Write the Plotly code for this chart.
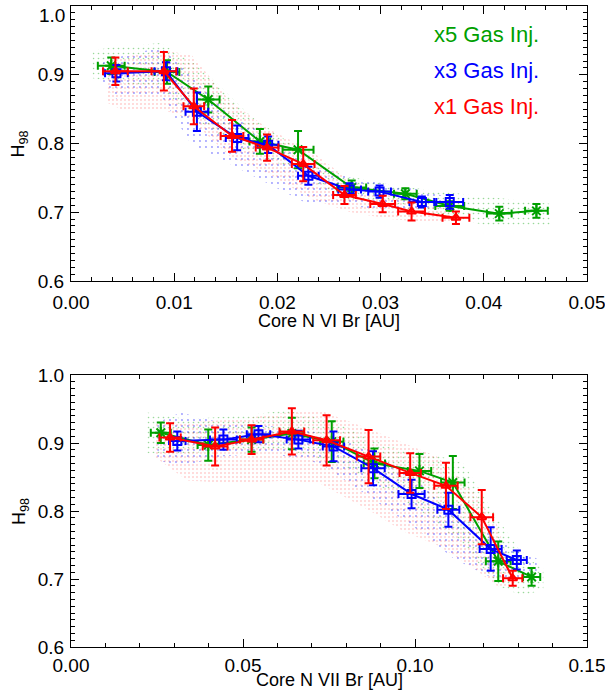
import plotly.graph_objects as go

# ---- binned means: Core N VI brightness vs H98 ----
n6_g_x = [0.0039, 0.0093, 0.0133, 0.0183, 0.0220, 0.0272, 0.0324, 0.0367, 0.0415, 0.0451]
n6_g_y = [0.913, 0.904, 0.864, 0.803, 0.791, 0.736, 0.727, 0.709, 0.698, 0.702]
n6_g_ex = [0.0013, 0.0012, 0.0011, 0.0010, 0.0015, 0.0014, 0.0011, 0.0014, 0.0012, 0.0011]
n6_g_ey = [0.012, 0.017, 0.019, 0.018, 0.027, 0.010, 0.008, 0.007, 0.010, 0.010]

n6_b_x = [0.0044, 0.0092, 0.0122, 0.0161, 0.0191, 0.0230, 0.0270, 0.0299, 0.0340, 0.0367]
n6_b_y = [0.902, 0.905, 0.846, 0.808, 0.798, 0.753, 0.733, 0.730, 0.715, 0.715]
n6_b_ex = [0.0011, 0.0011, 0.0011, 0.0011, 0.0010, 0.0010, 0.0011, 0.0011, 0.0012, 0.0013]
n6_b_ey = [0.012, 0.013, 0.028, 0.018, 0.012, 0.013, 0.009, 0.009, 0.008, 0.010]

n6_r_x = [0.0043, 0.0090, 0.0119, 0.0156, 0.0190, 0.0225, 0.0265, 0.0302, 0.0330, 0.0373]
n6_r_y = [0.905, 0.905, 0.854, 0.811, 0.794, 0.770, 0.725, 0.712, 0.701, 0.692]
n6_r_ex = [0.0012, 0.0012, 0.0010, 0.0011, 0.0011, 0.0011, 0.0011, 0.0012, 0.0013, 0.0013]
n6_r_ey = [0.020, 0.028, 0.026, 0.023, 0.019, 0.025, 0.013, 0.012, 0.013, 0.009]

# ---- binned means: Core N VII brightness vs H98 ----
n7_g_x = [0.0261, 0.0399, 0.0525, 0.0642, 0.0758, 0.0882, 0.1013, 0.1110, 0.1242, 0.1339]
n7_g_y = [0.915, 0.897, 0.905, 0.914, 0.902, 0.870, 0.859, 0.842, 0.726, 0.703]
n7_g_ex = [0.0029, 0.0031, 0.0034, 0.0034, 0.0034, 0.0031, 0.0034, 0.0034, 0.0036, 0.0025]
n7_g_ey = [0.015, 0.023, 0.018, 0.023, 0.030, 0.022, 0.025, 0.039, 0.029, 0.013]

n7_b_x = [0.0309, 0.0443, 0.0545, 0.0661, 0.0763, 0.0878, 0.0990, 0.1097, 0.1220, 0.1296]
n7_b_y = [0.903, 0.905, 0.913, 0.905, 0.895, 0.863, 0.825, 0.802, 0.744, 0.728]
n7_b_ex = [0.0024, 0.0039, 0.0034, 0.0034, 0.0031, 0.0034, 0.0038, 0.0032, 0.0032, 0.0029]
n7_b_ey = [0.014, 0.015, 0.012, 0.013, 0.022, 0.025, 0.021, 0.025, 0.032, 0.014]

n7_r_x = [0.0288, 0.0419, 0.0525, 0.0642, 0.0743, 0.0865, 0.0986, 0.1090, 0.1194, 0.1284]
n7_r_y = [0.908, 0.895, 0.905, 0.917, 0.904, 0.880, 0.856, 0.837, 0.791, 0.701]
n7_r_ex = [0.0031, 0.0036, 0.0034, 0.0036, 0.0039, 0.0034, 0.0031, 0.0034, 0.0033, 0.0028]
n7_r_ey = [0.021, 0.028, 0.021, 0.034, 0.037, 0.039, 0.029, 0.034, 0.040, 0.011]

# ---- extent of the raw time-slice clouds (upper / lower edge) ----
c6_g_x = [0.0021, 0.0039, 0.0087, 0.0126, 0.0174, 0.0213, 0.0261, 0.0309, 0.0358, 0.0406, 0.0466]
c6_g_hi = [0.935, 0.940, 0.946, 0.910, 0.840, 0.800, 0.755, 0.740, 0.730, 0.722, 0.712]
c6_g_lo = [0.895, 0.890, 0.880, 0.830, 0.785, 0.765, 0.720, 0.710, 0.695, 0.680, 0.680]

c6_b_x = [0.0029, 0.0044, 0.0087, 0.0116, 0.0155, 0.0193, 0.0232, 0.0271, 0.0309, 0.0348, 0.0367]
c6_b_hi = [0.920, 0.925, 0.940, 0.900, 0.840, 0.810, 0.770, 0.750, 0.740, 0.730, 0.720]
c6_b_lo = [0.890, 0.865, 0.870, 0.800, 0.770, 0.740, 0.710, 0.710, 0.700, 0.700, 0.705]

c6_r_x = [0.0034, 0.0048, 0.0087, 0.0116, 0.0155, 0.0193, 0.0232, 0.0271, 0.0309, 0.0348, 0.0377]
c6_r_hi = [0.920, 0.925, 0.935, 0.930, 0.860, 0.820, 0.790, 0.745, 0.725, 0.710, 0.700]
c6_r_lo = [0.860, 0.850, 0.850, 0.835, 0.780, 0.755, 0.720, 0.700, 0.690, 0.685, 0.685]

c7_g_x = [0.0222, 0.0338, 0.0484, 0.0629, 0.0774, 0.0919, 0.1044, 0.1141, 0.1238, 0.1315, 0.1373]
c7_g_hi = [0.945, 0.935, 0.940, 0.948, 0.930, 0.895, 0.885, 0.870, 0.790, 0.735, 0.715]
c7_g_lo = [0.885, 0.885, 0.890, 0.890, 0.870, 0.830, 0.790, 0.750, 0.690, 0.675, 0.685]

c7_b_x = [0.0251, 0.0319, 0.0435, 0.0580, 0.0725, 0.0870, 0.1015, 0.1112, 0.1209, 0.1286, 0.1354]
c7_b_hi = [0.930, 0.945, 0.930, 0.925, 0.915, 0.890, 0.840, 0.800, 0.770, 0.745, 0.730]
c7_b_lo = [0.875, 0.865, 0.880, 0.885, 0.870, 0.820, 0.770, 0.730, 0.705, 0.700, 0.710]

c7_r_x = [0.0242, 0.0338, 0.0484, 0.0629, 0.0725, 0.0870, 0.0967, 0.1064, 0.1160, 0.1238, 0.1276]
c7_r_hi = [0.930, 0.930, 0.935, 0.945, 0.948, 0.920, 0.900, 0.880, 0.835, 0.780, 0.720]
c7_r_lo = [0.880, 0.845, 0.840, 0.845, 0.840, 0.800, 0.770, 0.750, 0.720, 0.690, 0.690]

labels = ["x5 Gas Inj.", "x3 Gas Inj.", "x1 Gas Inj."]
y_ticks = [0.6, 0.7, 0.8, 0.9, 1.0]
GREEN, BLUE, RED = "#00A000", "#0000FF", "#FF0000"
FONT = "Liberation Sans, Arial, Helvetica, sans-serif"

fig = go.Figure()


def cloud(xs, hi, lo, color, size, xa, ya):
    fig.add_trace(go.Scatter(
        x=xs + xs[::-1], y=hi + lo[::-1], xaxis=xa, yaxis=ya,
        mode="lines", line=dict(width=0), fill="toself",
        fillcolor="rgba(0,0,0,0)",
        fillpattern=dict(shape=".", fgcolor=color, bgcolor="rgba(0,0,0,0)",
                         size=size, solidity=0.08, fgopacity=0.4),
        hoverinfo="skip", showlegend=False))


def series(x, y, ex, ey, color, symbol, msize, xa, ya):
    fig.add_trace(go.Scatter(
        x=x, y=y, xaxis=xa, yaxis=ya, mode="lines+markers",
        line=dict(color=color, width=2),
        marker=dict(symbol=symbol, size=msize, color=color,
                    line=dict(color=color, width=2)),
        error_x=dict(type="data", array=ex, color=color, thickness=2, width=4),
        error_y=dict(type="data", array=ey, color=color, thickness=2, width=4),
        showlegend=False))


# top panel
cloud(c6_g_x, c6_g_hi, c6_g_lo, GREEN, 5, "x", "y")
cloud(c6_b_x, c6_b_hi, c6_b_lo, BLUE, 6, "x", "y")
cloud(c6_r_x, c6_r_hi, c6_r_lo, RED, 4, "x", "y")
series(n6_g_x, n6_g_y, n6_g_ex, n6_g_ey, GREEN, "asterisk-open", 10, "x", "y")
series(n6_b_x, n6_b_y, n6_b_ex, n6_b_ey, BLUE, "square-open", 8, "x", "y")
series(n6_r_x, n6_r_y, n6_r_ex, n6_r_ey, RED, "triangle-up-open", 8, "x", "y")

# bottom panel
cloud(c7_g_x, c7_g_hi, c7_g_lo, GREEN, 5, "x2", "y2")
cloud(c7_b_x, c7_b_hi, c7_b_lo, BLUE, 6, "x2", "y2")
cloud(c7_r_x, c7_r_hi, c7_r_lo, RED, 4, "x2", "y2")
series(n7_g_x, n7_g_y, n7_g_ex, n7_g_ey, GREEN, "asterisk-open", 10, "x2", "y2")
series(n7_b_x, n7_b_y, n7_b_ex, n7_b_ey, BLUE, "square-open", 8, "x2", "y2")
series(n7_r_x, n7_r_y, n7_r_ex, n7_r_ey, RED, "triangle-up-open", 8, "x2", "y2")

axis_common = dict(showline=True, linecolor="black", linewidth=1, mirror="ticks",
                   ticks="inside", ticklen=8, tickcolor="black", showgrid=False,
                   zeroline=False, automargin=False, ticklabeloverflow="allow",
                   tickfont=dict(family=FONT, size=19, color="black"))
minor_common = dict(ticks="inside", ticklen=4, tickcolor="black", showgrid=False)

# the top panel's "1.0" label sits just inside the page edge, drawn separately below
top_ticktext = ["%.1f" % v for v in y_ticks[:-1]] + [""]

fig.update_layout(
    width=605, height=700,
    margin=dict(l=71, r=18, t=6, b=53),
    paper_bgcolor="white", plot_bgcolor="white",
    font=dict(family=FONT, color="black"),
    xaxis=dict(domain=[0, 1], anchor="y", range=[0, 0.05], dtick=0.01,
               tickformat=".2f", ticklabelstandoff=4,
               minor=dict(dtick=0.002, **minor_common), **axis_common),
    yaxis=dict(domain=[0.571, 1], anchor="x", range=[0.6, 1.0],
               tickvals=y_ticks, ticktext=top_ticktext, ticklabelstandoff=2,
               minor=dict(dtick=0.01, **minor_common), **axis_common),
    xaxis2=dict(domain=[0, 1], anchor="y2", range=[0, 0.15], dtick=0.05,
                tickformat=".2f", ticklabelstandoff=1,
                minor=dict(dtick=0.01, **minor_common), **axis_common),
    yaxis2=dict(domain=[0, 0.4243], anchor="x2", range=[0.6, 1.0],
                tickvals=y_ticks, tickformat=".1f", ticklabelstandoff=2,
                minor=dict(dtick=0.01, **minor_common), **axis_common),
)

annots = []
annots.append(dict(text="%.1f" % y_ticks[-1], x=-0.008, y=1.0, xref="paper", yref="y",
                   xanchor="right", yanchor="top", yshift=3, showarrow=False,
                   font=dict(family=FONT, size=19, color="black")))
for lab, col, yy in zip(labels, [GREEN, BLUE, RED], [0.9587, 0.906, 0.8535]):
    annots.append(dict(text=lab, x=0.0455, y=yy, xref="x", yref="y",
                       xanchor="right", yanchor="middle", showarrow=False,
                       font=dict(family=FONT, size=22, color=col)))
annots.append(dict(text="Core N VI Br [AU]", x=0.025, y=0.5086, xref="x", yref="paper",
                   xanchor="center", yanchor="middle", showarrow=False,
                   font=dict(family=FONT, size=18, color="black")))
annots.append(dict(text="Core N VII Br [AU]", x=0.075, y=-0.0515, xref="x2", yref="paper",
                   xanchor="center", yanchor="middle", showarrow=False,
                   font=dict(family=FONT, size=18, color="black")))
for ya in ["y", "y2"]:
    annots.append(dict(text="H<sub>98</sub>", x=-0.099, y=0.8, xref="paper", yref=ya,
                       xanchor="center", yanchor="middle", textangle=-90, showarrow=False,
                       font=dict(family=FONT, size=18, color="black")))
fig.update_layout(annotations=annots)

fig.write_html("out.html")
